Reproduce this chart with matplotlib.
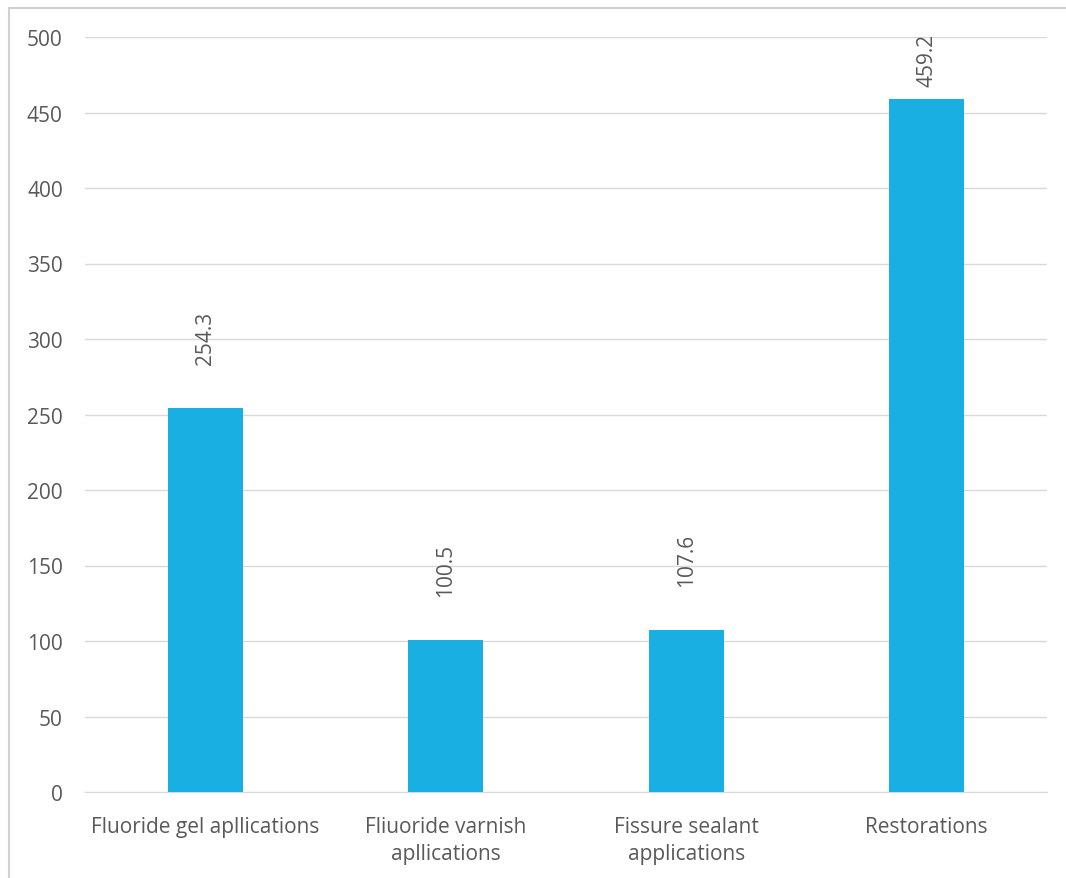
import matplotlib
matplotlib.use("Agg")
import matplotlib.pyplot as plt
from matplotlib.lines import Line2D

categories = ["Fluoride gel apllications", "Fliuoride varnish\napllications",
              "Fissure sealant\napplications", "Restorations"]
values = [254.3, 100.5, 107.6, 459.2]
yticks = [0, 50, 100, 150, 200, 250, 300, 350, 400, 450, 500]

plt.rcParams['font.family'] = ['Open Sans', 'DejaVu Sans']
text_color = '#595959'
fs = 15

fig = plt.figure(figsize=(10.66, 8.79), dpi=100)
ax = fig.add_axes([85/1066, 1-793/879, (1047-85)/1066, (793-38)/879])

x = list(range(len(categories)))
ax.bar(x, values, width=0.31, color='#1aafe3', zorder=3)
ax.set_xlim(-0.5, len(categories) - 0.5)
ax.set_ylim(0, 500)
ax.set_yticks(yticks)
ax.set_yticklabels([str(t) for t in yticks])
ax.set_xticks(x)
ax.set_xticklabels(categories, linespacing=1.4)
ax.grid(axis='y', color='#d9d9d9', linewidth=1.0, zorder=0)
for s in ['top', 'right', 'left']:
    ax.spines[s].set_visible(False)
ax.spines['bottom'].set_color('#d9d9d9')
ax.tick_params(axis='both', length=0, labelsize=fs, colors=text_color)
ax.tick_params(axis='y', pad=16)
ax.tick_params(axis='x', pad=17)

gap = 29.0
for xi, v in zip(x, values):
    yb = min(v + gap, 467.5)
    ax.text(xi, yb, f"{v:.1f}", rotation=90, ha='center', va='bottom',
            fontsize=fs, color=text_color)

border = '#d0d0d0'
fig.lines.append(Line2D([9/1066, 1], [1-9/879, 1-9/879], transform=fig.transFigure,
                        color=border, linewidth=1.5))
fig.lines.append(Line2D([9/1066, 9/1066], [0, 1-9/879], transform=fig.transFigure,
                        color=border, linewidth=1.5))

fig.savefig("out.png", dpi=100)
